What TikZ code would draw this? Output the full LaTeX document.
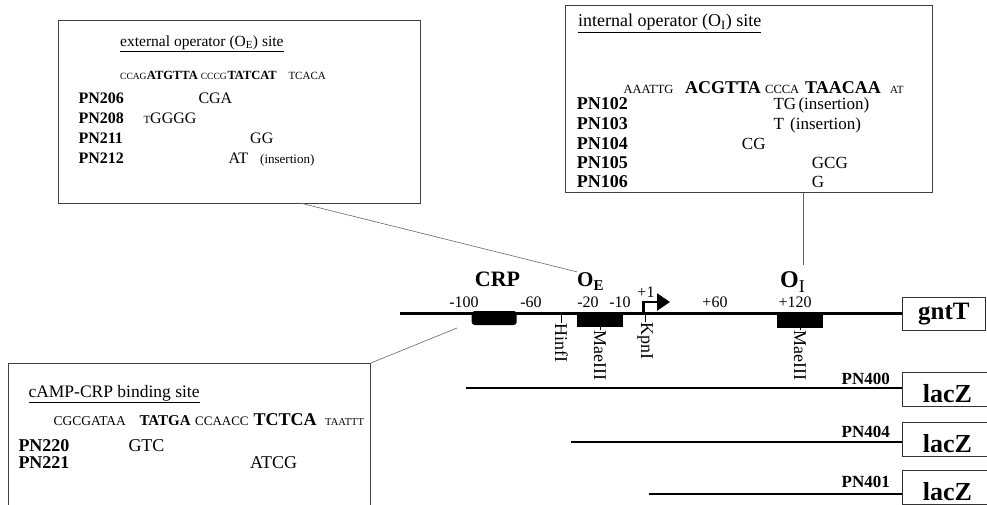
\documentclass[tikz,border=0pt]{standalone}
\usepackage{fontspec}
\setmainfont{Liberation Serif}
\usetikzlibrary{arrows.meta}
\newcommand{\fs}[1]{\fontsize{#1}{#1}\selectfont}
\newcommand{\sml}[2]{{\fs{#1}#2}}
\newcommand{\bld}[2]{{\fs{#1}\bfseries #2}}

\tikzset{
  txt/.style={inner sep=0pt, anchor=base west},
  infobox/.style={draw=black!75, line width=0.9pt, anchor=north west, inner sep=0pt},
  callout/.style={draw=black!60, line width=0.6pt},
  dna/.style={line width=2.5pt},
  construct/.style={line width=1.8pt},
  blk/.style={fill=black, inner sep=0pt},
  genebox/.style={draw=black!80, line width=0.8pt, anchor=north west, inner xsep=4pt, inner ysep=0pt},
  laczbox/.style={genebox, minimum width=90pt, minimum height=34pt, text height=26pt, text depth=0pt, font=\fs{26}\bfseries},
  site/.style={rotate=-90, anchor=west, inner sep=0pt, font=\fs{18}},
  tick/.style={line width=0.6pt},
  coordlabel/.style={inner sep=0pt, anchor=base, font=\fs{16}},
  pnlabel/.style={inner sep=0pt, anchor=base east, font=\fs{17}\bfseries}
}

\begin{document}
\begin{tikzpicture}[x=1pt, y=-1pt]
  \useasboundingbox (0,0) rectangle (987,505);

  % external operator box
  \node[infobox, minimum width=362pt, minimum height=183pt] (extinfo) at (58,20) {};
  \node[txt, font=\fs{15.5}] (exttitle) at (120,46.7) {\underline{external operator (O\textsubscript{E}) site}};
  \foreach \x/\t [count=\k] in {120/\sml{9.5}{CCAG}, 146.7/\bld{12.5}{ATGTTA}, 200.7/\sml{9.5}{CCCG},
      227.3/\bld{12.5}{TATCAT}, 288.3/\sml{11}{TCACA}}
    \node[txt] (eseq\k) at (\x,80) {\t};
  \foreach \n/\y [count=\k] in {PN206/103.3, PN208/123.3, PN211/143.3, PN212/163.3}
    \node[txt, font=\fs{16}\bfseries] (erow\k) at (78.3,\y) {\n};
  \foreach \x/\y/\t [count=\k] in {198.3/103.3/CGA, 143.3/123.3/{\sml{11}{T}GGGG}, 250/143.3/GG,
      228.3/163.3/AT, 260/163.3/{\sml{13}{(insertion)}}}
    \node[txt, font=\fs{16}] (emut\k) at (\x,\y) {\t};

  % internal operator box
  \node[infobox, minimum width=367pt, minimum height=187pt] (intinfo) at (565,5) {};
  \node[txt, font=\fs{18}] (inttitle) at (578,26.7) {\underline{internal operator (O\textsubscript{I}) site}};
  \foreach \x/\t [count=\k] in {623.3/\sml{12.5}{AAATTG}, 685/\bld{18}{ACGTTA}, 765/\sml{12.5}{CCCA},
      805/\bld{18}{TAACAA}, 890/\sml{11}{AT}}
    \node[txt] (iseq\k) at (\x,93.3) {\t};
  \foreach \n/\y [count=\k] in {PN102/110, PN103/130, PN104/150, PN105/168.5, PN106/187}
    \node[txt, font=\fs{18}\bfseries] (irow\k) at (576.7,\y) {\n};
  \foreach \x/\y/\t [count=\k] in {773.3/110/TG, 798.3/110/(insertion), 773.3/130/T, 790/130/(insertion),
      741.7/150/CG, 811.7/168.5/GCG, 811.7/187/G}
    \node[txt, font=\fs{17}] (imut\k) at (\x,\y) {\t};

  % cAMP-CRP box
  \node[infobox, minimum width=362pt, minimum height=150pt] (crpinfo) at (8,363) {};
  \node[txt, font=\fs{17.5}] (crptitle) at (28.3,397) {\underline{cAMP-CRP binding site}};
  \foreach \x/\t [count=\k] in {53.3/\sml{13.5}{CGCGATAA}, 139.3/\bld{15}{TATGA}, 195/\sml{13}{CCAACC},
      253.3/\bld{18}{TCTCA}, 325/\sml{10.5}{TAATTT}}
    \node[txt] (cseq\k) at (\x,425) {\t};
  \node[txt, font=\fs{18}\bfseries] (crow1) at (18.3,451.7) {PN220};
  \node[txt, font=\fs{18}\bfseries] (crow2) at (18.3,468) {PN221};
  \node[txt, font=\fs{18}] (cmut1) at (128.3,451.7) {GTC};
  \node[txt, font=\fs{18}] (cmut2) at (250,468) {ATCG};

  % gntT region
  \coordinate (dnastart) at (400,313.3);
  \node[genebox, minimum width=83pt, minimum height=33pt, font=\fs{25}\bfseries] (gntT) at (902,297) {gntT};
  \draw[dna] (dnastart) -- (dnastart -| gntT.west);

  \node[blk, rounded corners=3pt, minimum width=45pt, minimum height=14pt] (crpsite) at (494.2,318) {};
  \node[blk, minimum width=46.6pt, minimum height=14pt] (oesite) at (600,319.7) {};
  \node[blk, minimum width=46.6pt, minimum height=15pt] (oisite) at (800,320.5) {};

  \node[inner sep=0pt, anchor=base, font=\fs{22}\bfseries] (crp) at (497.5,286) {CRP};
  \node[txt] (oe) at (577,286) {\bld{21}{O}\raisebox{-4pt}{\bld{15}{E}}};
  \node[txt] (oi) at (780,287) {\bld{24}{O}\raisebox{-5pt}{\sml{18}{I}}};

  \foreach \x/\t [count=\k] in {464/-100, 531/-60, 588/-20, 620/-10, 715/+60, 795/+120}
    \node[coordlabel] (mark\k) at (\x,307.5) {\t};
  \node[coordlabel] (tsslabel) at (646,297) {+1};

  % promoter arrow
  \coordinate (tss) at (643.3,313.3);
  \coordinate (tsshead) at (670,302);
  \draw[line width=2.5pt, -{Triangle[length=13pt,width=17pt]}] (tss) |- (tsshead);

  % restriction sites
  \node[site] (hinf) at (561.5,323) {HinfI};
  \node[site] (mae1) at (600,330) {MaeIII};
  \node[site] (kpn) at (645,322) {KpnI};
  \node[site] (mae2) at (800,330) {MaeIII};
  \foreach \s in {hinf,mae1,kpn,mae2}
    \draw[tick] (\s.west) -- (\s.west |- dnastart);

  % callouts
  \coordinate (extfoot) at (300,203);
  \coordinate (oitop) at (803,265);
  \coordinate (crpfoot) at (457,328);
  \draw[callout] (extfoot) -- (oe.north west);
  \draw[callout] (intinfo.south -| oitop) -- (oitop);
  \draw[callout] (crpinfo.north east) -- (crpfoot);

  % lacZ fusions
  \node[laczbox] (lacz1) at (902,372) {lacZ};
  \node[laczbox] (lacz2) at (902,422) {lacZ};
  \node[laczbox] (lacz3) at (902,470) {lacZ};
  \coordinate (pn400start) at (466,388);
  \coordinate (pn404start) at (571,442);
  \coordinate (pn401start) at (649,493.6);
  \draw[construct] (pn400start) -- (pn400start -| lacz1.west);
  \draw[construct] (pn404start) -- (pn404start -| lacz2.west);
  \draw[construct] (pn401start) -- (pn401start -| lacz3.west);
  \node[pnlabel] (pn400) at (890,384) {PN400};
  \node[pnlabel] (pn404) at (890,437) {PN404};
  \node[pnlabel] (pn401) at (890,487) {PN401};
\end{tikzpicture}
\end{document}
